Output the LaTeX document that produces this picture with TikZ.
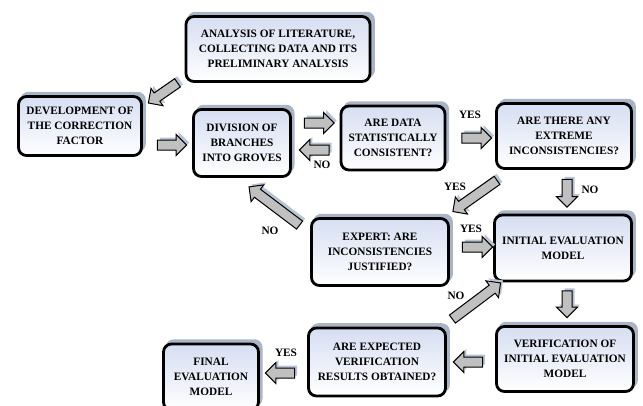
\documentclass[tikz,border=0pt]{standalone}
\usepackage{fontspec}
\setmainfont{Liberation Serif}
\usetikzlibrary{shapes.arrows, shadows, calc, positioning}

\definecolor{boxblue}{HTML}{D6DEF2}
\definecolor{boxshadow}{HTML}{A9B5C7}
\definecolor{arrowgrey}{HTML}{C0C0C0}
\definecolor{arrowshadow}{HTML}{B8C3D4}

% block arrow from tail #1 to head #2 (with its shadow)
\newcommand{\flowarrow}[2]{%
  \path let \p1=(#1), \p2=(#2), \p3=($(\p1)!0.5!(\p2)$),
    \n1={atan2(\y2-\y1,\x2-\x1)}, \n2={veclen(\x2-\x1,\y2-\y1)} in
    node[fatarrow, fill=arrowshadow, draw=none, minimum height=\n2, rotate=\n1]
      at ($(\p3)+(2.5pt,2.5pt)$) {}
    node[fatarrow, minimum height=\n2, rotate=\n1] at (\p3) {};}

\begin{document}
\begin{tikzpicture}[x=1pt, y=-1pt,
    txt/.style={font=\fontsize{11.3}{15}\selectfont\bfseries, align=center},
    stagebox/.style={txt, draw=black, line width=2.8pt, rounded corners=8pt,
      top color=boxblue, bottom color=white, inner sep=2pt,
      drop shadow={shadow xshift=3pt, shadow yshift=4pt, shadow scale=1.02,
        fill=boxshadow, opacity=1}},
    fatarrow/.style={shape=single arrow, draw=black, fill=arrowgrey, line width=1pt,
      inner xsep=0pt, inner ysep=4.5pt, single arrow head extend=5.5pt,
      single arrow head indent=0pt},
    tag/.style={txt, inner sep=0pt}]
  \useasboundingbox (0,0) rectangle (643,405);

  % Boxes
  \node[stagebox, minimum width=184, minimum height=65] (lit) at (278,49)
    {ANALYSIS OF LITERATURE,\\COLLECTING DATA AND ITS\\PRELIMINARY ANALYSIS};
  \node[stagebox, minimum width=123, minimum height=59] (dev) at (80,126)
    {DEVELOPMENT OF\\THE CORRECTION\\FACTOR};
  \node[stagebox, minimum width=97, minimum height=67] (div) at (242,143)
    {DIVISION OF\\BRANCHES\\INTO GROVES};
  \node[stagebox, minimum width=104, minimum height=64] (data) at (393,138)
    {ARE DATA\\STATISTICALLY\\CONSISTENT?};
  \node[stagebox, minimum width=135, minimum height=65] (extreme) at (564,136)
    {ARE THERE ANY\\EXTREME\\INCONSISTENCIES?};
  \node[stagebox, minimum width=137, minimum height=67] (expert) at (380,252)
    {EXPERT: ARE\\INCONSISTENCIES\\JUSTIFIED?};
  \node[stagebox, minimum width=137, minimum height=66] (initial) at (563,248)
    {INITIAL EVALUATION\\MODEL};
  \node[stagebox, minimum width=137, minimum height=65] (verif) at (565,359)
    {VERIFICATION OF\\INITIAL EVALUATION\\MODEL};
  \node[stagebox, minimum width=137, minimum height=68] (expected) at (377,362)
    {ARE EXPECTED\\VERIFICATION\\RESULTS OBTAINED?};
  \node[stagebox, minimum width=95, minimum height=66] (final) at (211,377)
    {FINAL\\EVALUATION\\MODEL};

  % Arrows
  \flowarrow{$(lit.south west)+(-5,-1.5)$}{$(dev.north east)+(7.5,6.5)$}
  \flowarrow{$(dev.east |- div.west)+(12,2)$}{$(div.west)+(-8,2)$}
  \flowarrow{$(div.east)+(10,-20)$}{$(data.west)+(-8,-15)$}
  \flowarrow{$(data.west)+(-8,12)$}{$(div.east)+(10,7)$}
  \flowarrow{$(data.east)+(13,0)$}{$(extreme.west)+(-6,2)$}
  \flowarrow{$(extreme.south west)+(4,9)$}{$(expert.north east)+(5,-7)$}
  \flowarrow{$(extreme.south)+(3,7)$}{$(initial.north)+(4,-9)$}
  \flowarrow{$(expert.north west)+(-8.5,9.5)$}{$(div.south)+(9,10.5)$}
  \flowarrow{$(expert.east)+(10,-5)$}{$(initial.west)+(-3,-1)$}
  \flowarrow{$(initial.south)+(4,6)$}{$(verif.north)+(2,-10)$}
  \flowarrow{$(verif.west)+(-10,3)$}{$(expected.east)+(9,0)$}
  \flowarrow{$(expected.north east)+(3.5,-6)$}{$(initial.south west)+(5.5,2)$}
  \flowarrow{$(expected.west)+(-10,11)$}{$(final.east)+(8,-4)$}

  % Answers
  \node[tag] (noDiv) at (322,165) {NO};
  \node[tag] (yesExt) at (470,115) {YES};
  \node[tag] (yesExp) at (455,187) {YES};
  \node[tag] (noExt) at (590,190) {NO};
  \node[tag] (noExp) at (270,231) {NO};
  \node[tag] (yesIni) at (471,229) {YES};
  \node[tag] (noRes) at (456,296) {NO};
  \node[tag] (yesRes) at (286,353) {YES};
\end{tikzpicture}
\end{document}
